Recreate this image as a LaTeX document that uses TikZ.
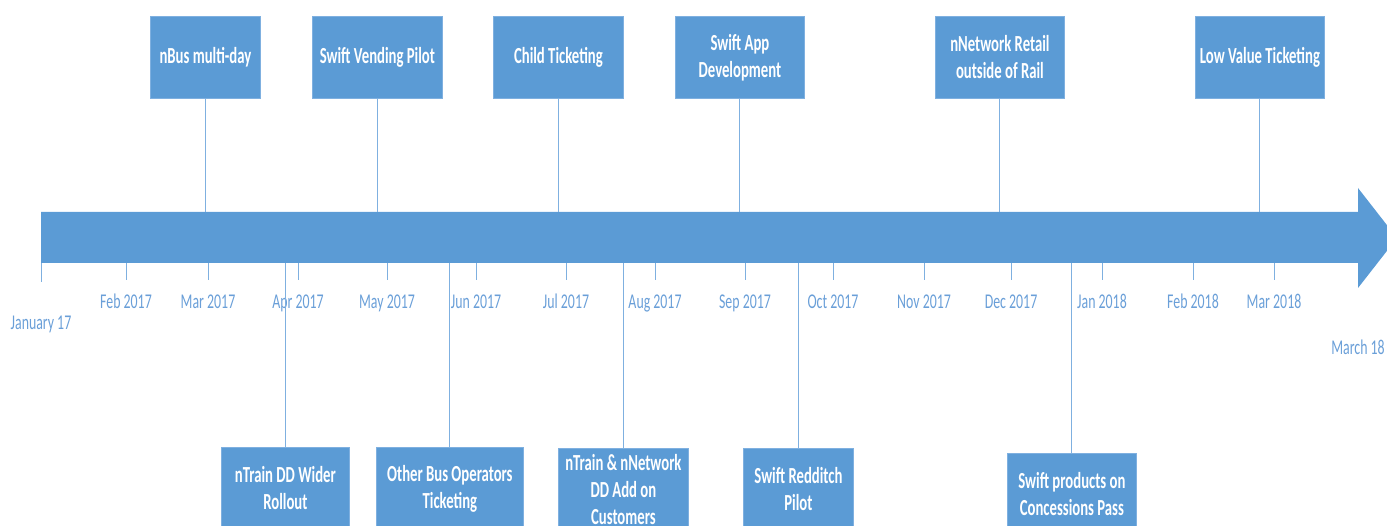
\documentclass[tikz,border=0pt]{standalone}
\usepackage{fontspec}
\newfontfamily\boxfont[FakeStretch=0.64]{Carlito}
\newfontfamily\labfont[FakeStretch=0.66]{Carlito}
\definecolor{tlblue}{HTML}{5B9BD5}
\definecolor{tledge}{HTML}{7FB0E0}
\definecolor{tltext}{HTML}{6A9FD8}
\tikzset{
  box/.style={fill=tlblue, draw=tledge, line width=0.8pt, minimum height=82pt,
    text=white, align=center, inner sep=0pt, anchor=north west,
    font=\boxfont\bfseries\fontsize{23}{27}\selectfont},
  conn/.style={draw=tledge, line width=1pt},
  tickline/.style={draw=tledge, line width=1pt},
  lab/.style={text=tltext, anchor=base, inner sep=0pt,
    font=\labfont\fontsize{21}{25}\selectfont}
}
\begin{document}
\begin{tikzpicture}[x=1pt,y=-1pt]
\useasboundingbox (0,0) rectangle (1387,526);
\clip (0,0) rectangle (1387,526);
% arrow
\fill[tlblue] (41,212) -- (1358,212) -- (1358,188) -- (1397,238) -- (1358,288) -- (1358,263) -- (41,263) -- cycle;
\coordinate (top) at (0,212);
\coordinate (bot) at (0,263);
% ticks and labels
\foreach \x/\l/\n in {126/Feb 2017/a, 208/Mar 2017/b, 298/Apr 2017/c, 387/May 2017/d, 476/Jun 2017/e, 566/Jul 2017/f, 655/Aug 2017/g, 745/Sep 2017/h, 833/Oct 2017/i, 924/Nov 2017/j, 1011/Dec 2017/k, 1102/Jan 2018/l, 1193/Feb 2018/m, 1274/Mar 2018/n}{
  \coordinate (t\n) at (\x,263);
  \coordinate (e\n) at (\x,280);
  \draw[tickline] (t\n) -- (e\n);
  \node[lab] (lab\n) at (\x,309) {\l};
}
\coordinate (tjan) at (41,263);
\coordinate (ejan) at (41,282);
\draw[tickline] (tjan) -- (ejan);
\node[lab] (labjan) at (41,330) {January 17};
\node[lab] (labmar) at (1358,355) {March 18};
% top boxes
\node[box, minimum width=110pt] (nbus) at (150,16) {nBus multi-day};
\node[box, minimum width=130pt] (svp) at (312,16) {Swift Vending Pilot};
\node[box, minimum width=130pt] (child) at (493,16) {Child Ticketing};
\node[box, minimum width=129pt] (sapp) at (675,16) {Swift App\\Development};
\node[box, minimum width=129pt] (nnet) at (935,16) {nNetwork Retail\\outside of Rail};
\node[box, minimum width=129pt] (lowv) at (1195,16) {Low Value Ticketing};
\foreach \b in {nbus,svp,child,sapp,nnet,lowv}{
  \draw[conn] (\b.south) -- (\b.south |- top);
}
% bottom boxes
\node[box, minimum width=128pt] (ntdd) at (221,447) {nTrain DD Wider\\Rollout};
\node[box, minimum width=147pt] (obus) at (376,447) {Other Bus Operators\\Ticketing};
\node[box, minimum width=130pt] (ntnn) at (558,448) {nTrain \& nNetwork\\DD Add on\\Customers};
\node[box, minimum width=110pt] (srp) at (743,448) {Swift Redditch\\Pilot};
\node[box, minimum width=129pt] (scp) at (1007,453) {Swift products on\\Concessions Pass};
\foreach \b in {ntdd,obus,ntnn,srp,scp}{
  \draw[conn] (\b.north) -- (\b.north |- bot);
}
\end{tikzpicture}
\end{document}
